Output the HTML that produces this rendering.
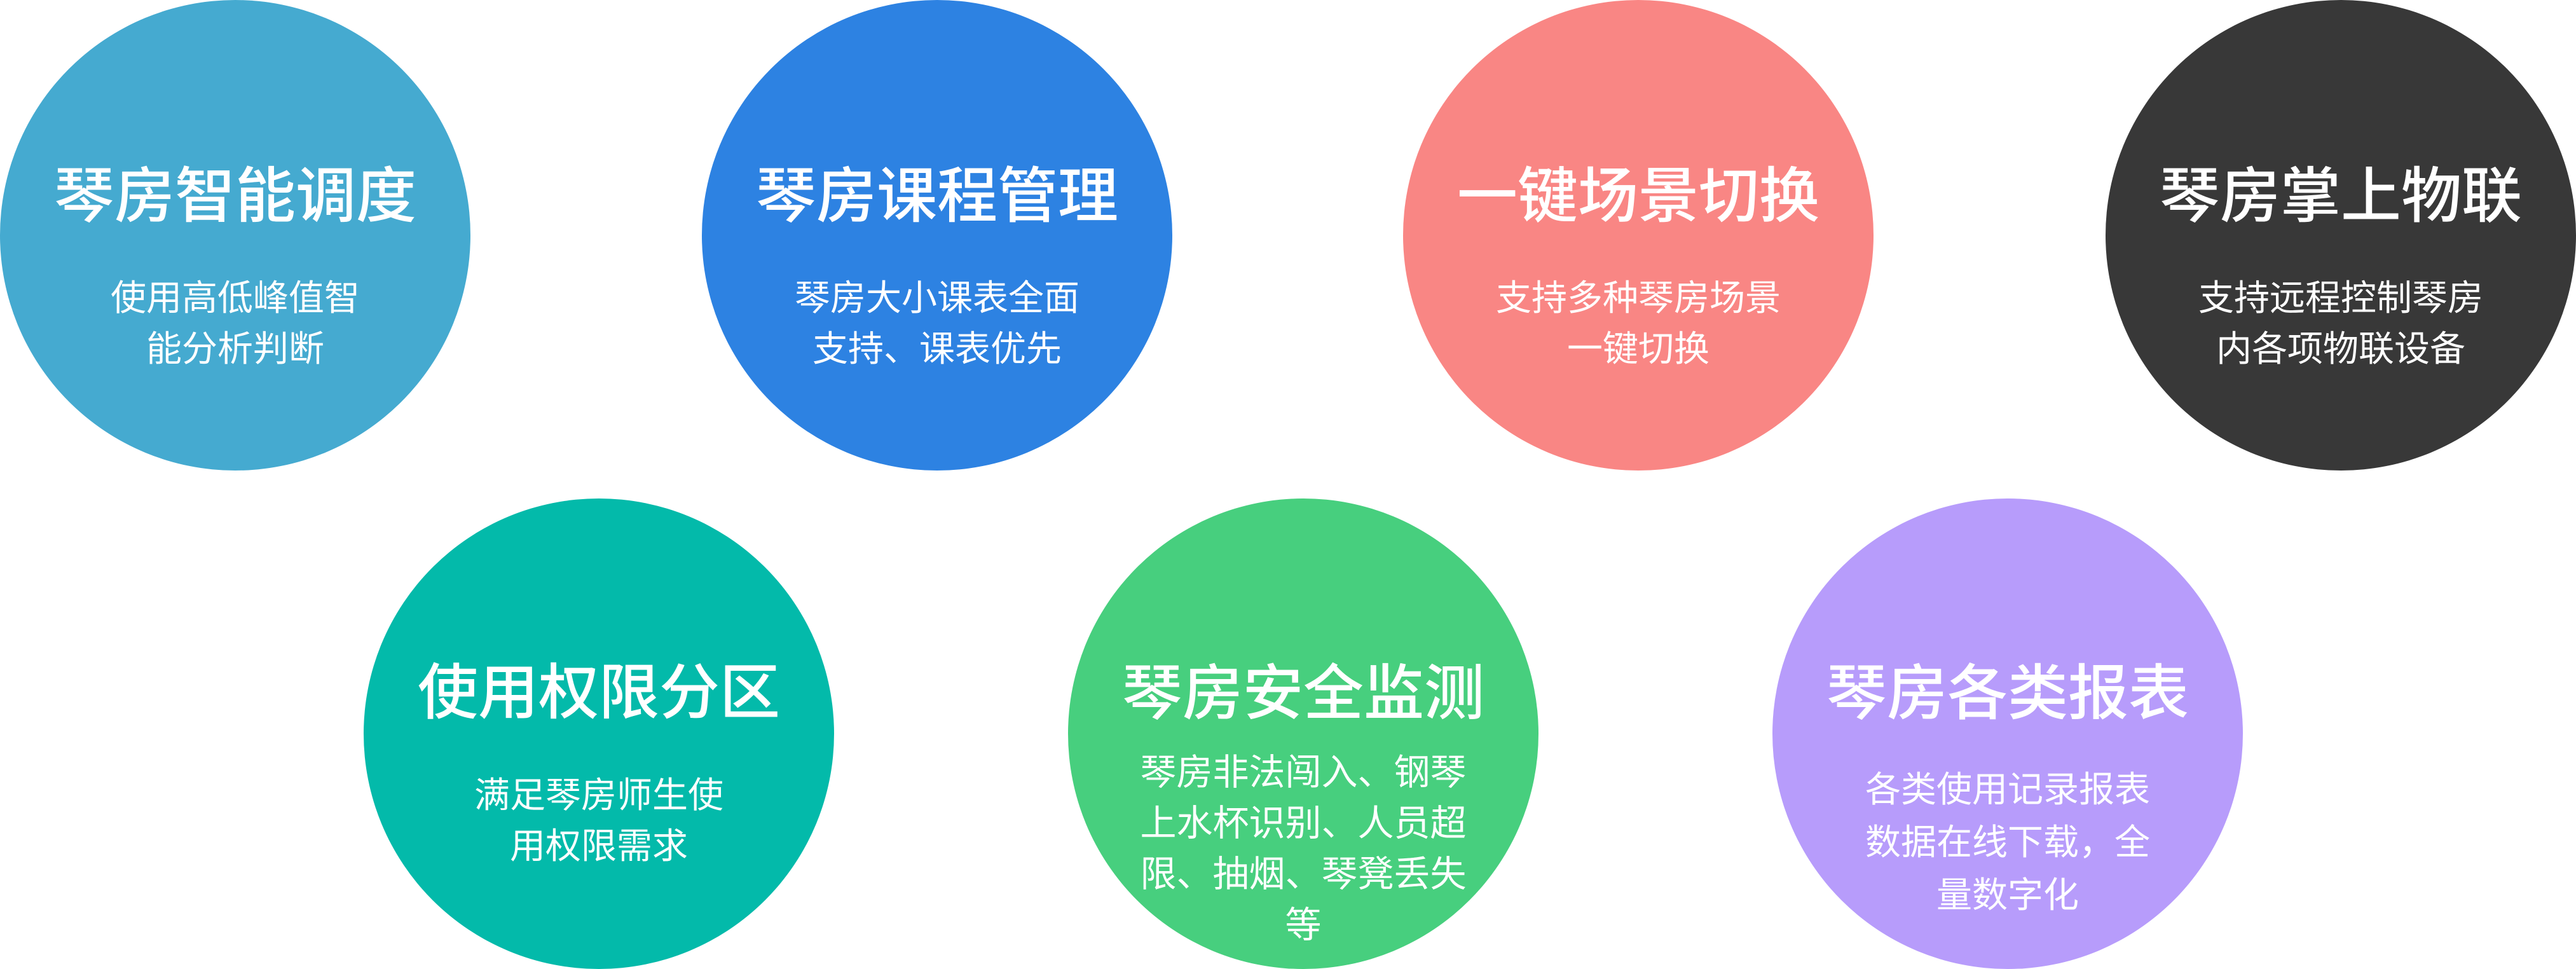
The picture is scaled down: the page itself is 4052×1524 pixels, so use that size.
<!DOCTYPE html>
<html><head><meta charset="utf-8"><style>
html,body{margin:0;padding:0;background:#fff;}
body{width:4052px;height:1524px;position:relative;overflow:hidden;font-family:"Liberation Sans","Noto Sans CJK SC",sans-serif;color:#fff;}
.c{position:absolute;width:740px;height:740px;border-radius:50%;}
.t{position:absolute;left:0;width:740px;text-align:center;font-size:95px;line-height:100px;font-weight:500;white-space:nowrap;}
.s{position:absolute;left:0;width:740px;text-align:center;font-size:56px;line-height:80px;white-space:nowrap;}
</style></head><body>
<div class="c" style="left:0;top:0;background:#45aad0"><div class="t" style="top:259px">琴房智能调度</div><div class="s" style="top:429px">使用高低峰值智<br>能分析判断</div></div>
<div class="c" style="left:1104px;top:0;background:#2d82e2"><div class="t" style="top:259px">琴房课程管理</div><div class="s" style="top:429px">琴房大小课表全面<br>支持、课表优先</div></div>
<div class="c" style="left:2207px;top:0;background:#f98684"><div class="t" style="top:259px">一键场景切换</div><div class="s" style="top:429px">支持多种琴房场景<br>一键切换</div></div>
<div class="c" style="left:3312px;top:0;background:#383838"><div class="t" style="top:259px">琴房掌上物联</div><div class="s" style="top:429px">支持远程控制琴房<br>内各项物联设备</div></div>
<div class="c" style="left:572px;top:784px;background:#03baaa"><div class="t" style="top:256px">使用权限分区</div><div class="s" style="top:427px">满足琴房师生使<br>用权限需求</div></div>
<div class="c" style="left:1680px;top:784px;background:#47cf7e"><div class="t" style="top:257px">琴房安全监测</div><div class="s" style="top:391px;font-size:57px;line-height:80px">琴房非法闯入、钢琴<br>上水杯识别、人员超<br>限、抽烟、琴凳丢失<br>等</div></div>
<div class="c" style="left:2788px;top:784px;background:#b79cfb"><div class="t" style="top:257px">琴房各类报表</div><div class="s" style="top:416px;line-height:83px">各类使用记录报表<br>数据在线下载，全<br>量数字化</div></div>
</body></html>
